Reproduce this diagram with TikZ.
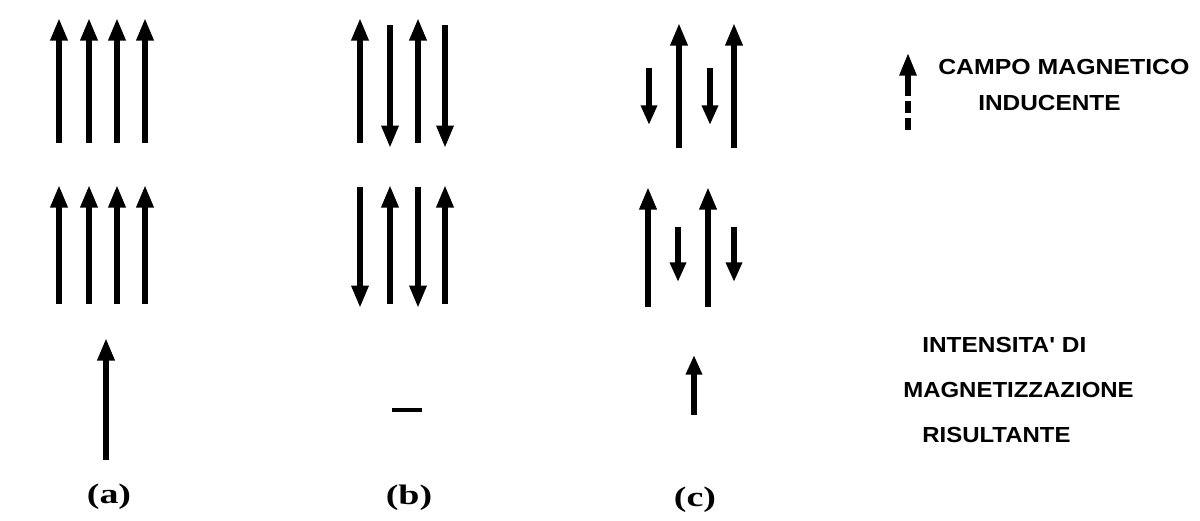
\documentclass[tikz,border=0pt]{standalone}
\usepackage{graphicx}
\usepackage{fontspec}
\setmainfont{Liberation Serif}
\newfontfamily\legendfont{Liberation Sans}
\usetikzlibrary{arrows.meta}
\newcommand{\widetext}[2]{\scalebox{#1}[1]{#2}}
\begin{document}
\begin{tikzpicture}[
  x=0.025cm,
  y=-0.025cm,
  spin/.style={
    -{Triangle[length=16pt,width=11.5pt]},
    line width=4.2pt
  },
  shortspin/.style={
    -{Triangle[length=14pt,width=11pt]},
    line width=4pt
  },
  caption/.style={
    font=\bfseries\fontsize{20}{24}\selectfont,
    inner sep=0pt
  },
  legend/.style={
    font=\legendfont\bfseries\fontsize{15.5}{18}\selectfont,
    inner sep=0pt,
    anchor=west
  }
]
\useasboundingbox (0,0) rectangle (1200,520);

% (a) all parallel
\foreach \x in {59,89,117,145} {
  \draw[spin] (\x,143) -- (\x,18);
  \draw[spin] (\x,304) -- (\x,185);
}
\draw[spin] (106,460) -- (106,338);

% (b) antiparallel, equal
\foreach \x in {360,418} {
  \draw[spin] (\x,143) -- (\x,18);
  \draw[spin] (\x,187) -- (\x,308);
}
\foreach \x in {390,445} {
  \draw[spin] (\x,25) -- (\x,148);
  \draw[spin] (\x,304) -- (\x,185);
}
\draw[line width=2.2pt] (392,410) -- (422,410);

% (c) antiparallel, unequal
\foreach \x in {679,734} {
  \draw[spin] (\x,148) -- (\x,23);
}
\foreach \x in {649,710} {
  \draw[shortspin] (\x,68) -- (\x,125);
}
\foreach \x in {648,708} {
  \draw[spin] (\x,307) -- (\x,187);
}
\foreach \x in {678,734} {
  \draw[shortspin] (\x,227) -- (\x,282);
}
\draw[shortspin] (694,415) -- (694,355);

\node[caption] (capa) at (109,497) {\widetext{1.35}{(a)}};
\node[caption] (capb) at (409,498) {\widetext{1.35}{(b)}};
\node[caption] (capc) at (695,500) {\widetext{1.35}{(c)}};

% legend
\draw[spin, line width=3.6pt] (908,95) -- (908,53);
\draw[line width=3.6pt, dash pattern=on 8.5pt off 3.5pt] (908,130) -- (908,95);
\node[legend] (campo) at (938,67) {\widetext{1.14}{CAMPO MAGNETICO}};
\node[legend] (inducente) at (978,103) {\widetext{1.12}{INDUCENTE}};

\node[legend] (intensita) at (922,345) {\widetext{1.12}{INTENSITA' DI}};
\node[legend] (magnet) at (903,390) {\widetext{1.10}{MAGNETIZZAZIONE}};
\node[legend] (risult) at (922,435) {\widetext{1.10}{RISULTANTE}};
\end{tikzpicture}
\end{document}
